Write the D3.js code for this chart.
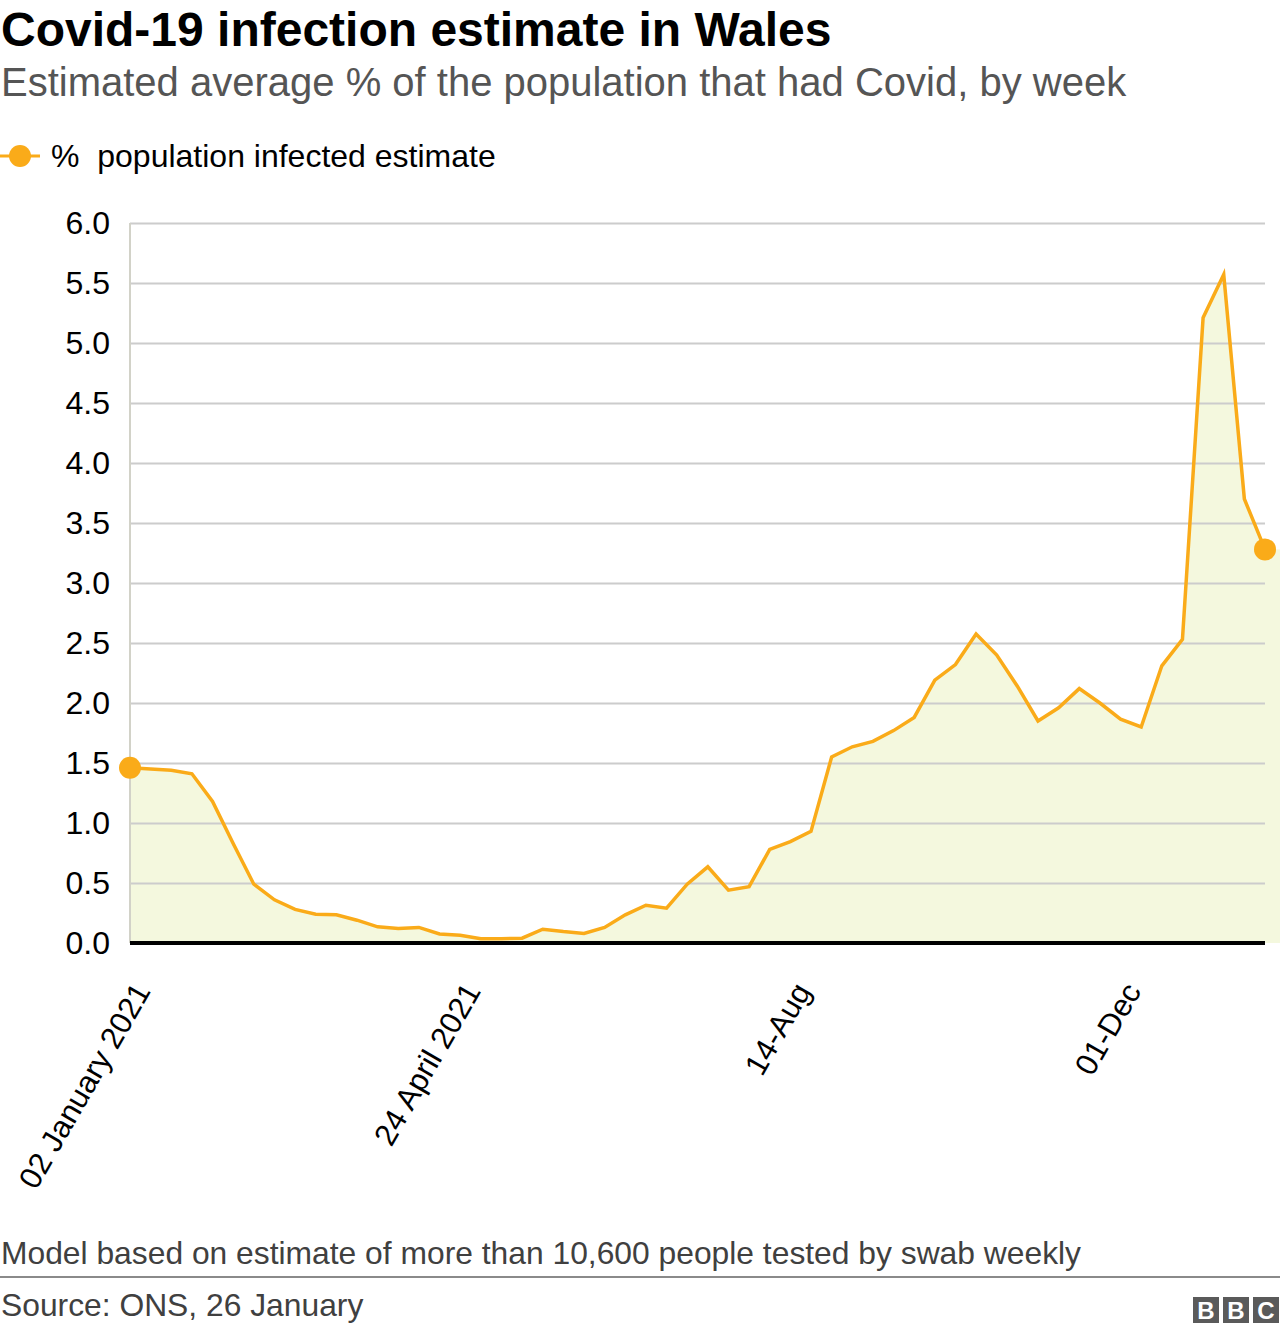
<!DOCTYPE html>
<html>
<head>
<meta charset="utf-8">
<script src="https://cdn.jsdelivr.net/npm/d3@7"></script>
<style>
  html, body { margin: 0; padding: 0; background: #fff; }
  svg { display: block; font-family: "Liberation Sans", Arial, Helvetica, sans-serif; }
</style>
</head>
<body>
<svg id="chart" width="1280" height="1332"></svg>
<script>
// ---- Data ----
const title = "Covid-19 infection estimate in Wales";
const subtitle = "Estimated average % of the population that had Covid, by week";
const seriesName = "%  population infected estimate";
const footnote = "Model based on estimate of more than 10,600 people tested by swab weekly";
const source = "Source: ONS, 26 January";

// weekly estimate (% of population infected), 56 weeks
const values = [
  1.46, 1.45, 1.44, 1.41, 1.18, 0.83, 0.49, 0.36, 0.28, 0.24,
  0.235, 0.19, 0.135, 0.12, 0.13, 0.075, 0.065, 0.035, 0.035, 0.04,
  0.115, 0.095, 0.08, 0.13, 0.235, 0.315, 0.29, 0.49, 0.635, 0.44,
  0.47, 0.78, 0.845, 0.93, 1.55, 1.635, 1.68, 1.77, 1.88, 2.19,
  2.32, 2.575, 2.40, 2.14, 1.85, 1.96, 2.12, 2.00, 1.865, 1.80,
  2.31, 2.53, 5.21, 5.57, 3.70, 3.28
];
const tickIndex = [0, 16, 32, 48];
const tickLabels = ["02 January 2021", "24 April 2021", "14-Aug", "01-Dec"];
const yTicks = [0, 0.5, 1, 1.5, 2, 2.5, 3, 3.5, 4, 4.5, 5, 5.5, 6];

// ---- Layout ----
const W = 1280;
const mLeft = 130, mRight = 1265, mTop = 223, mBottom = 943;
const ORANGE = "#faab19";
const FILL = "#f4f8de";

const svg = d3.select("#chart");

const x = d3.scaleLinear().domain([0, values.length - 1]).range([mLeft, mRight]);
const y = d3.scaleLinear().domain([0, 6]).range([mBottom, mTop]);

// Titles
svg.append("text").attr("x", 1).attr("y", 46)
  .attr("font-size", 48).attr("font-weight", "bold").attr("fill", "#000").text(title);
svg.append("text").attr("x", 1).attr("y", 96)
  .attr("font-size", 40).attr("fill", "#555").text(subtitle);

// Legend
const lg = svg.append("g");
lg.append("line").attr("x1", 0).attr("x2", 40).attr("y1", 156).attr("y2", 156)
  .attr("stroke", ORANGE).attr("stroke-width", 3);
lg.append("circle").attr("cx", 20).attr("cy", 156).attr("r", 11).attr("fill", ORANGE);
lg.append("text").attr("x", 51).attr("y", 167).attr("font-size", 32).attr("fill", "#000")
  .attr("xml:space", "preserve").style("white-space", "pre").text(seriesName);

// Area
const area = d3.area().x((d, i) => x(i)).y0(y(0)).y1(d => y(d));
svg.append("path").datum(values).attr("d", area).attr("fill", FILL);
// fill continuation to the right edge
svg.append("rect")
  .attr("x", x(values.length - 1)).attr("width", W - x(values.length - 1))
  .attr("y", y(values[values.length - 1])).attr("height", y(0) - y(values[values.length - 1]))
  .attr("fill", FILL);

// Y axis gridlines + labels
const yAxis = d3.axisLeft(y).tickValues(yTicks).tickFormat(d3.format(".1f"))
  .tickSize(-(mRight - mLeft)).tickPadding(20);
const yg = svg.append("g").attr("transform", `translate(${mLeft},0)`).call(yAxis);
yg.select(".domain").remove();
yg.selectAll(".tick line").attr("stroke", "#cccccc").attr("stroke-width", 2);
yg.selectAll(".tick text").attr("font-size", 32).attr("fill", "#000")
  .attr("font-family", "Liberation Sans, Arial, sans-serif");

// left vertical axis line
svg.append("line").attr("x1", mLeft).attr("x2", mLeft).attr("y1", y(6)).attr("y2", y(0))
  .attr("stroke", "#d2d2c8").attr("stroke-width", 2);

// Line
const line = d3.line().x((d, i) => x(i)).y(d => y(d));
svg.append("path").datum(values).attr("d", line).attr("fill", "none")
  .attr("stroke", ORANGE).attr("stroke-width", 3.5).attr("stroke-linejoin", "miter");

// Zero baseline
svg.append("line").attr("x1", mLeft).attr("x2", mRight).attr("y1", y(0)).attr("y2", y(0))
  .attr("stroke", "#000").attr("stroke-width", 4);

// End dots
[0, values.length - 1].forEach(i => {
  svg.append("circle").attr("cx", x(i)).attr("cy", y(values[i])).attr("r", 11).attr("fill", ORANGE);
});

// X labels (rotated)
const xAxis = d3.axisBottom(x).tickValues(tickIndex)
  .tickFormat((d, i) => tickLabels[i]).tickSize(0);
const xg = svg.append("g").attr("transform", `translate(0,${mBottom})`).call(xAxis);
xg.select(".domain").remove();
xg.selectAll(".tick text")
  .attr("font-size", 31).attr("fill", "#000")
  .attr("font-family", "Liberation Sans, Arial, sans-serif")
  .attr("text-anchor", "end")
  .attr("dy", 0)
  .attr("y", 0)
  .attr("transform", "translate(21,48) rotate(-60)");

// Footnote + divider + source
svg.append("text").attr("x", 1).attr("y", 1264).attr("font-size", 31.8).attr("fill", "#404040").text(footnote);
svg.append("line").attr("x1", 0).attr("x2", W).attr("y1", 1277).attr("y2", 1277)
  .attr("stroke", "#8a8a8a").attr("stroke-width", 2);
svg.append("text").attr("x", 1).attr("y", 1316).attr("font-size", 31.8).attr("fill", "#404040").text(source);

// BBC logo
const logo = svg.append("g").attr("transform", "translate(1193,1297)");
["B", "B", "C"].forEach((c, i) => {
  logo.append("rect").attr("x", i * 30).attr("y", 0).attr("width", 26).attr("height", 26).attr("fill", "#5a5a5a");
  logo.append("text").attr("x", i * 30 + 13).attr("y", 22).attr("text-anchor", "middle")
    .attr("font-size", 24).attr("font-weight", "bold").attr("fill", "#fff").text(c);
});
</script>
</body>
</html>
